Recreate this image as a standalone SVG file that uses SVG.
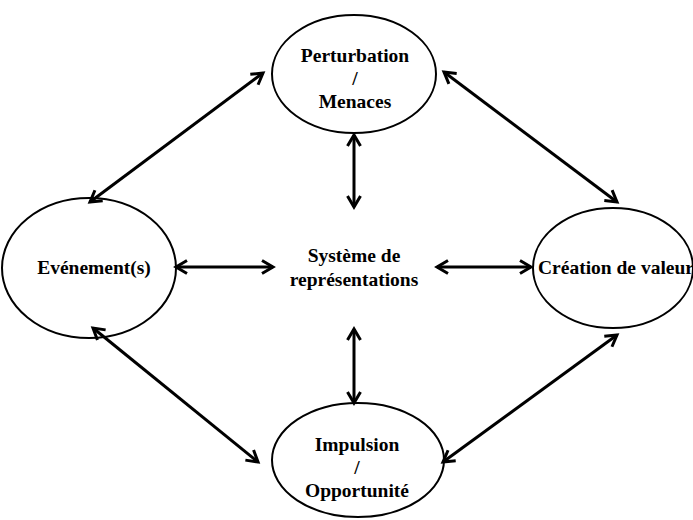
<svg xmlns="http://www.w3.org/2000/svg" width="693" height="520" viewBox="0 0 693 520">
  <style>
    .node ellipse { fill: #fff; stroke: #000; stroke-width: 2; }
    text { font-family: "Liberation Serif", "Times New Roman", serif; font-weight: bold; font-size: 19.5px; fill: #000; text-anchor: middle; }
    .conn line { stroke: #000; stroke-width: 3; marker-start: url(#ah); marker-end: url(#ah); }
  </style>
  <defs>
    <marker id="ah" markerWidth="18" markerHeight="18" viewBox="-15 -9 18 18" refX="0" refY="0" orient="auto-start-reverse" markerUnits="userSpaceOnUse">
      <path d="M-11,-6.5 L0,0 L-11,6.5" fill="none" stroke="#000" stroke-width="3" stroke-linejoin="miter"/>
    </marker>
  </defs>
  <rect width="693" height="520" fill="#fff"/>

  <g id="perturbation" class="node">
    <ellipse cx="354" cy="74" rx="82" ry="59"/>
    <text x="355" y="62">Perturbation</text>
    <text x="355" y="85">/</text>
    <text x="355" y="108">Menaces</text>
  </g>

  <g id="evenements" class="node">
    <ellipse cx="89" cy="268" rx="87" ry="70"/>
    <text x="94" y="274">Evénement(s)</text>
  </g>

  <g id="systeme" class="node">
    <text x="354" y="262">Système de</text>
    <text x="354" y="286">représentations</text>
  </g>

  <g id="creation" class="node">
    <ellipse cx="613" cy="268" rx="80" ry="60"/>
    <text x="538" y="274" style="text-anchor:start">Création de valeur</text>
  </g>

  <g id="impulsion" class="node">
    <ellipse cx="358" cy="460" rx="86" ry="57"/>
    <text x="357" y="451">Impulsion</text>
    <text x="357" y="474">/</text>
    <text x="357" y="497">Opportunité</text>
  </g>

  <g id="connectors" class="conn">
    <line x1="263" y1="73" x2="90" y2="202"/>
    <line x1="444" y1="72" x2="617" y2="202"/>
    <line x1="93" y1="328" x2="258" y2="462"/>
    <line x1="617" y1="335" x2="443" y2="462"/>
    <line x1="354" y1="135" x2="354" y2="207"/>
    <line x1="354" y1="329" x2="354" y2="403"/>
    <line x1="176" y1="267" x2="273" y2="267"/>
    <line x1="437" y1="267" x2="531" y2="267"/>
  </g>
</svg>
